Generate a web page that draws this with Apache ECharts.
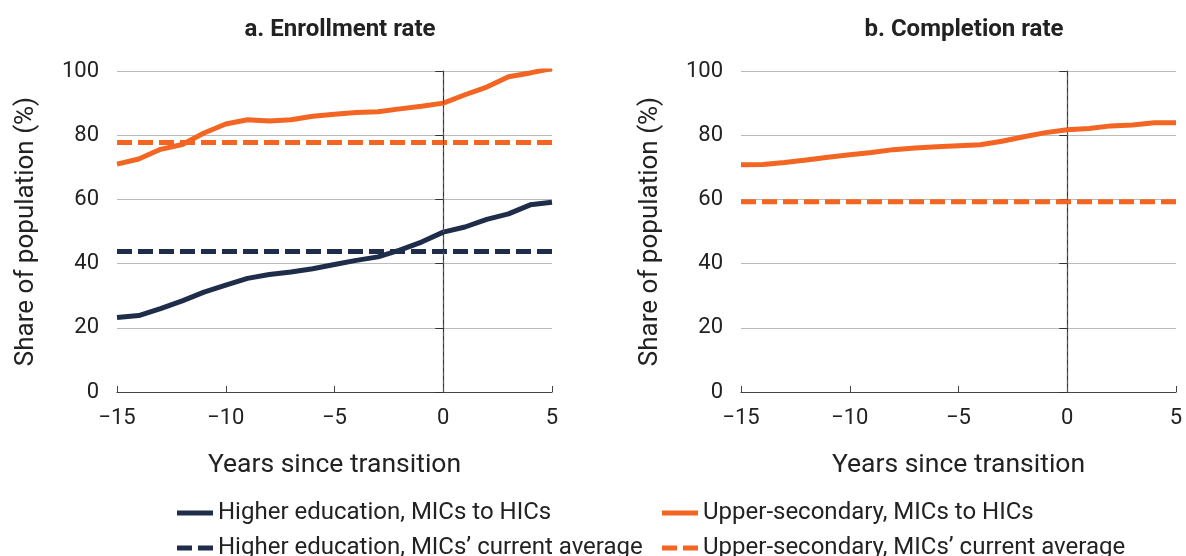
<!DOCTYPE html>
<html>
<head>
<meta charset="utf-8">
<script src="https://cdn.jsdelivr.net/npm/echarts@6/dist/echarts.min.js"></script>
<style>html,body{margin:0;padding:0;background:#fff}#c{width:1186px;height:556px}</style>
</head>
<body>
<div id="c"></div>
<script>
// ---- data ----
const years = [-15,-14,-13,-12,-11,-10,-9,-8,-7,-6,-5,-4,-3,-2,-1,0,1,2,3,4,5];
const enrollHigher = [23.2,23.8,26.0,28.4,31.1,33.3,35.4,36.6,37.4,38.4,39.7,41.0,42.1,44.2,46.7,49.8,51.4,53.8,55.5,58.3,59.1];
const enrollUpper = [71.0,72.6,75.6,77.1,80.7,83.5,84.8,84.4,84.8,85.9,86.5,87.1,87.3,88.2,89.0,90.0,92.6,95.0,98.2,99.4,100.8];
const enrollHigherAvg = 43.8;
const enrollUpperAvg = 77.7;
const complUpper = [70.8,70.9,71.5,72.3,73.1,73.9,74.6,75.5,76.0,76.4,76.7,77.0,78.1,79.5,80.8,81.7,82.1,82.9,83.2,83.9,83.9];
const complUpperAvg = 59.3;
const transitionYear = 0;
const xTicks = [-15,-10,-5,0,5];
const yTicks = [0,20,40,60,80,100];
const titles = ['a. Enrollment rate','b. Completion rate'];
const names = ['Higher education, MICs to HICs','Upper-secondary, MICs to HICs',
               'Higher education, MICs\u2019 current average','Upper-secondary, MICs\u2019 current average'];

const NAVY = '#1f2d4a', ORANGE = '#f26522';
const FONT = 'Roboto';
const pair = arr => years.map((y,i)=>[y,arr[i]]);
const flat = v => [[years[0],v],[years[years.length-1],v]];

function xAxis(i){
  return {gridIndex:i,type:'value',min:xTicks[0],max:xTicks[xTicks.length-1],interval:5,
    name:'Years since transition',nameLocation:'middle',nameGap:60,
    nameTextStyle:{fontFamily:FONT,fontSize:26.5,color:'#222'},
    axisLine:{lineStyle:{color:'#444',width:1.2}},
    axisTick:{inside:true,length:6,lineStyle:{color:'#444'}},
    axisLabel:{fontFamily:FONT,fontSize:22,color:'#222',margin:15,
      formatter:v=>String(v).replace('-','\u2212')},
    splitLine:{show:false}};
}
function yAxis(i){
  return {gridIndex:i,type:'value',min:yTicks[0],max:yTicks[yTicks.length-1],interval:20,
    name:'Share of population (%)',nameLocation:'middle',nameGap:78,
    nameTextStyle:{fontFamily:FONT,fontSize:26,color:'#222'},
    axisLine:{show:true,lineStyle:{color:'#333',width:1.2}},
    axisTick:{show:true,length:8,lineStyle:{color:'#333'}},
    axisLabel:{fontFamily:FONT,fontSize:22,color:'#222',margin:18},
    splitLine:{show:true,lineStyle:{color:'#bbb',width:1}}};
}
const vStyle = {color:'#555',type:[4,4],width:1};
const vline = {silent:true,symbol:'none',label:{show:false},
  lineStyle:vStyle,data:[{xAxis:transitionYear,lineStyle:vStyle}]};

function line(name,data,color,dashed,grid,extra){
  return Object.assign({name,type:'line',xAxisIndex:grid,yAxisIndex:grid,data,
    symbol:'none',showSymbol:false,smooth:false,animation:false,
    lineStyle:{color,width:5,type:dashed?[15,6]:'solid'},itemStyle:{color},z:dashed?3:4},extra||{});
}
const SOLID_ICON = 'path://M0 0H36V5H0Z';
const DASH_ICON = 'path://M0 0H15V5H0ZM21 0H36V5H21Z';
function leg(nm,icon,left,top){
  return {left,top,itemWidth:36,itemHeight:5,itemGap:0,symbolKeepAspect:false,
    textStyle:{fontFamily:FONT,fontSize:24,color:'#222'},
    data:[{name:nm,icon}]};
}

const chart = echarts.init(document.getElementById('c'),null,{renderer:'canvas'});
chart.setOption({
  animation:false,
  title:[
    {text:titles[0],left:335,top:13,textAlign:'center',textStyle:{fontFamily:FONT,fontSize:24,fontWeight:'bold',color:'#222'}},
    {text:titles[1],left:959,top:13,textAlign:'center',textStyle:{fontFamily:FONT,fontSize:24,fontWeight:'bold',color:'#222'}}
  ],
  grid:[
    {left:117,width:435,top:71,height:321},
    {left:741,width:435,top:71,height:321}
  ],
  xAxis:[xAxis(0),xAxis(1)],
  yAxis:[yAxis(0),yAxis(1)],
  legend:[
    leg(names[0],SOLID_ICON,172,496),
    leg(names[2],DASH_ICON,172,531),
    leg(names[1],SOLID_ICON,657,496),
    leg(names[3],DASH_ICON,657,531)
  ],
  series:[
    line(names[2],flat(enrollHigherAvg),NAVY,true,0),
    line(names[3],flat(enrollUpperAvg),ORANGE,true,0),
    line(names[0],pair(enrollHigher),NAVY,false,0,{markLine:vline}),
    line(names[1],pair(enrollUpper),ORANGE,false,0),
    line(names[3],flat(complUpperAvg),ORANGE,true,1),
    line(names[1],pair(complUpper),ORANGE,false,1,{markLine:vline})
  ]
});
</script>
</body>
</html>
